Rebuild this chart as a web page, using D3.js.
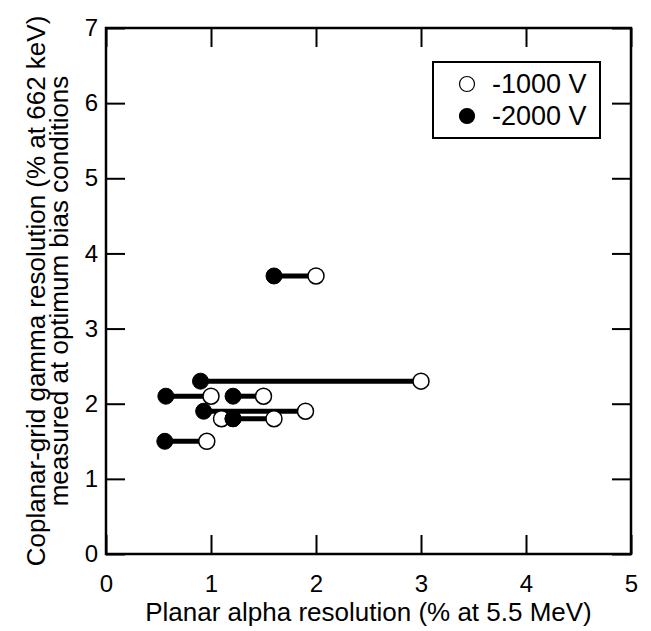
<!DOCTYPE html>
<html>
<head>
<meta charset="utf-8">
<script src="https://cdn.jsdelivr.net/npm/d3@7"></script>
<style>
  html, body { margin: 0; padding: 0; background: #fff; }
  svg { display: block; }
  text { font-family: "Liberation Sans", Arial, Helvetica, sans-serif; fill: #000; }
</style>
</head>
<body>
<svg id="chart" width="651" height="631"></svg>
<script>
// ---- Data ----
const samples = ["A", "B", "C", "D", "E", "F", "G", "H"];
const gammaRes = [3.7, 2.3, 1.9, 2.1, 2.1, 1.8, 1.8, 1.5];      // y, % at 662 keV
const alpha1000V = [2.0, 3.0, 1.9, 1.0, 1.5, 1.1, 1.6, 0.96];   // open circles
const alpha2000V = [1.6, 0.9, 0.93, 0.57, 1.21, 1.21, 1.21, 0.56]; // filled circles
const xTicks = [0, 1, 2, 3, 4, 5];
const yTicks = [0, 1, 2, 3, 4, 5, 6, 7];
const legendLabels = ["-1000 V", "-2000 V"];
const xTitle = "Planar alpha resolution (% at 5.5 MeV)";
const yTitleLines = ["Coplanar-grid gamma resolution (% at 662 keV)", "measured at optimum bias conditions"];

const svg = d3.select("#chart");
const m = { left: 106, right: 631, top: 28, bottom: 554 };
const x = d3.scaleLinear().domain([0, 5]).range([m.left, m.right]);
const y = d3.scaleLinear().domain([0, 7]).range([m.bottom, m.top]);
const tickLen = 19;

// inward ticks on all four sides
const g = svg.append("g");
const axisStyle = sel => {
  sel.select(".domain").remove();
  sel.selectAll(".tick line").attr("stroke", "#000").attr("stroke-width", 2);
  sel.attr("font-family", null).attr("font-size", null);
};
g.append("g").attr("transform", `translate(0,${m.bottom})`)
  .call(d3.axisBottom(x).tickValues(xTicks).tickSize(-tickLen).tickPadding(21).tickFormat(d3.format("d")))
  .call(axisStyle)
  .selectAll("text").attr("font-size", 24).attr("dy", "0.71em");
g.append("g").attr("transform", `translate(0,${m.top})`)
  .call(d3.axisTop(x).tickValues(xTicks).tickSize(-tickLen).tickFormat(""))
  .call(axisStyle);
g.append("g").attr("transform", `translate(${m.left},0)`)
  .call(d3.axisLeft(y).tickValues(yTicks).tickSize(-tickLen).tickPadding(8).tickFormat(d3.format("d")))
  .call(axisStyle)
  .selectAll("text").attr("font-size", 24);
g.append("g").attr("transform", `translate(${m.right},0)`)
  .call(d3.axisRight(y).tickValues(yTicks).tickSize(-tickLen).tickFormat(""))
  .call(axisStyle);
svg.selectAll(".tick text").style("fill", "#000");

// frame
svg.append("rect")
  .attr("x", m.left).attr("y", m.top)
  .attr("width", m.right - m.left).attr("height", m.bottom - m.top)
  .attr("fill", "none").attr("stroke", "#000").attr("stroke-width", 2.5);

// data pairs
const r = 8;
const pairs = samples.map((s, i) => ({ s, y: gammaRes[i], a1: alpha1000V[i], a2: alpha2000V[i] }));
const pg = svg.append("g").selectAll("g").data(pairs).join("g");
pg.append("line")
  .attr("x1", d => x(d.a2)).attr("x2", d => x(d.a1))
  .attr("y1", d => y(d.y)).attr("y2", d => y(d.y))
  .attr("stroke", "#000").attr("stroke-width", 5);
pg.append("circle")
  .attr("cx", d => x(d.a1)).attr("cy", d => y(d.y)).attr("r", r)
  .attr("fill", "#fff").attr("stroke", "#000").attr("stroke-width", 1.5);
pg.append("circle")
  .attr("cx", d => x(d.a2)).attr("cy", d => y(d.y)).attr("r", r)
  .attr("fill", "#000").attr("stroke", "#000").attr("stroke-width", 1);

// legend
const lg = svg.append("g");
lg.append("rect").attr("x", 433).attr("y", 62).attr("width", 167).attr("height", 76)
  .attr("fill", "#fff").attr("stroke", "#000").attr("stroke-width", 2);
const items = lg.selectAll("g.item").data(legendLabels).join("g").attr("class", "item")
  .attr("transform", (d, i) => `translate(467,${84 + i * 32})`);
items.append("circle").attr("r", 7.5)
  .attr("fill", (d, i) => i === 0 ? "#fff" : "#000")
  .attr("stroke", "#000").attr("stroke-width", 1.2);
items.append("text").attr("x", 25).attr("y", 9).attr("font-size", 27).text(d => d);

// axis titles
svg.append("text").attr("x", (m.left + m.right) / 2).attr("y", 621)
  .attr("text-anchor", "middle").attr("font-size", 26).text(xTitle);
const cy = (m.top + m.bottom) / 2;
yTitleLines.forEach((t, i) => {
  svg.append("text")
    .attr("transform", `translate(${45 + i * 23},${cy}) rotate(-90)`)
    .attr("text-anchor", "middle").attr("font-size", 26).text(t);
});
</script>
</body>
</html>
